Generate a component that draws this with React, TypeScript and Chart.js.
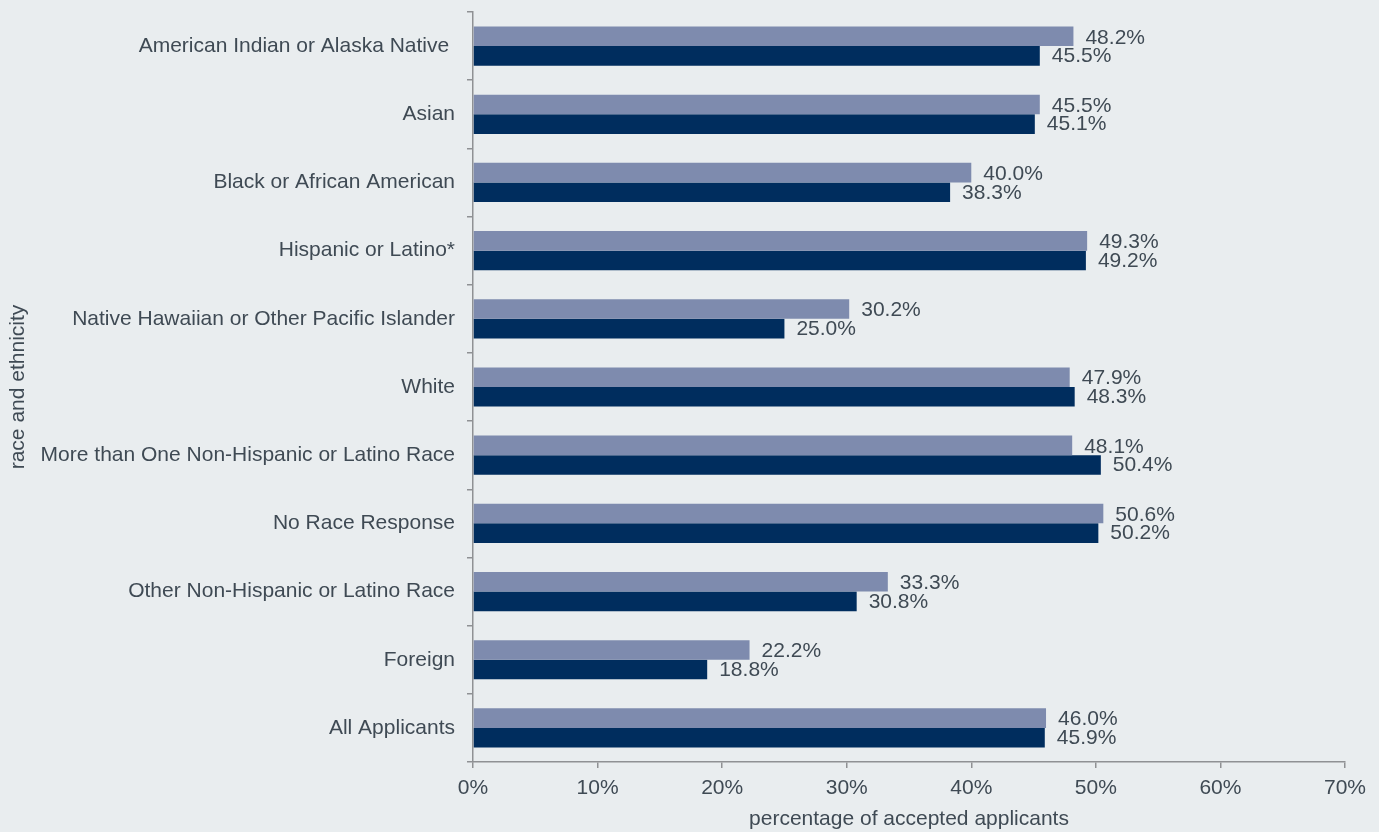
import React, { useEffect, useRef } from "react";
import { Chart, registerables } from "chart.js";

Chart.register(...registerables);

const categories = [
  "American Indian or Alaska Native ",
  "Asian",
  "Black or African American",
  "Hispanic or Latino*",
  "Native Hawaiian or Other Pacific Islander",
  "White",
  "More than One Non-Hispanic or Latino Race",
  "No Race Response",
  "Other Non-Hispanic or Latino Race",
  "Foreign",
  "All Applicants",
];
const seriesLight = [48.2, 45.5, 40.0, 49.3, 30.2, 47.9, 48.1, 50.6, 33.3, 22.2, 46.0];
const seriesDark = [45.5, 45.1, 38.3, 49.2, 25.0, 48.3, 50.4, 50.2, 30.8, 18.8, 45.9];
const xTicks = [0, 10, 20, 30, 40, 50, 60, 70];

const TEXT = "#3f4a54";
const AXIS = "#8f9194";
const FONT = "'Liberation Sans', Arial, sans-serif";
const FS = 21;

const valueLabels = {
  id: "valueLabels",
  afterDatasetsDraw(chart: any) {
    const ctx = chart.ctx;
    ctx.save();
    ctx.font = `${FS}px ${FONT}`;
    ctx.fillStyle = TEXT;
    ctx.textAlign = "left";
    ctx.textBaseline = "middle";
    chart.data.datasets.forEach((ds: any, di: number) => {
      const meta = chart.getDatasetMeta(di);
      meta.data.forEach((bar: any, i: number) => {
        const v = ds.data[i];
        const dy = di === 0 ? 1.5 : 0.5;
        ctx.fillText(v.toFixed(1) + "%", bar.x + 12, bar.y + dy);
      });
    });
    ctx.restore();
  },
};

export default function App() {
  const ref = useRef<HTMLCanvasElement>(null);
  useEffect(() => {
    if (!ref.current) return;
    const chart = new Chart(ref.current, {
      type: "bar",
      data: {
        labels: categories,
        datasets: [
          {
            label: "light",
            data: seriesLight,
            backgroundColor: "#7e8bae",
            borderWidth: 0,
            barPercentage: 1.0,
            categoryPercentage: 0.575,
          },
          {
            label: "dark",
            data: seriesDark,
            backgroundColor: "#002d5e",
            borderWidth: 0,
            barPercentage: 1.0,
            categoryPercentage: 0.575,
          },
        ],
      },
      options: {
        indexAxis: "y",
        animation: false,
        responsive: false,
        maintainAspectRatio: false,
        layout: { padding: { top: 12, right: 34, bottom: 0, left: 0 } },
        plugins: {
          legend: { display: false },
          tooltip: { enabled: false },
        },
        scales: {
          x: {
            min: 0,
            max: 70,
            afterBuildTicks: (scale: any) => {
              scale.ticks = xTicks.map((v) => ({ value: v }));
            },
            afterFit: (scale: any) => {
              scale.height = 70;
            },
            grid: {
              drawOnChartArea: false,
              drawTicks: true,
              tickLength: 6,
              color: AXIS,
              lineWidth: 1.5,
            },
            border: { display: true, color: AXIS, width: 1.5 },
            ticks: {
              padding: 8,
              color: TEXT,
              font: { family: FONT, size: FS },
              callback: (v: any) => v + "%",
            },
            title: {
              display: true,
              text: "percentage of accepted applicants",
              color: TEXT,
              font: { family: FONT, size: FS },
              padding: { top: 0, bottom: 0 },
            },
          },
          y: {
            afterFit: (scale: any) => {
              scale.width = 473;
              scale.paddingTop = 0;
              scale.paddingBottom = 0;
            },
            grid: {
              drawOnChartArea: false,
              drawTicks: true,
              tickLength: 6,
              color: AXIS,
              lineWidth: 1.5,
              offset: true,
            },
            border: { display: true, color: AXIS, width: 1.5 },
            ticks: {
              padding: 12,
              color: TEXT,
              font: { family: FONT, size: FS },
              autoSkip: false,
            },
            title: {
              display: true,
              text: "race and ethnicity",
              color: TEXT,
              font: { family: FONT, size: FS },
              padding: { top: 6, bottom: 4 },
            },
          },
        },
      },
      plugins: [valueLabels],
    });
    return () => chart.destroy();
  }, []);
  return (
    <div
      style={{
        position: "fixed",
        left: 0,
        top: 0,
        width: 1379,
        height: 832,
        background: "#e9edef",
      }}
    >
      <canvas ref={ref} width={1379} height={832} style={{ display: "block" }} />
    </div>
  );
}
